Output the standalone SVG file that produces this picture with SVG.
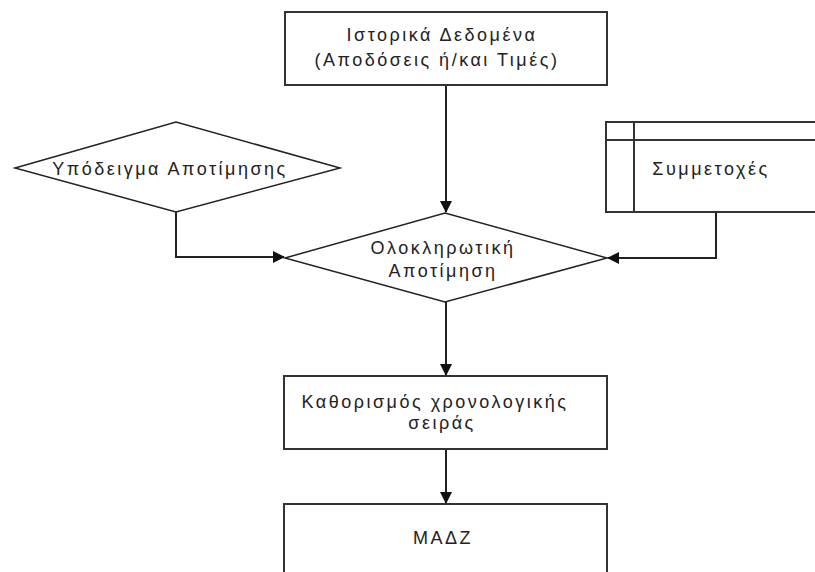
<svg xmlns="http://www.w3.org/2000/svg" width="815" height="572" viewBox="0 0 815 572">
<defs>
<style>
.s{fill:#fff;stroke:#333;stroke-width:2}
.d{fill:#fff;stroke:#222;stroke-width:1.5}
.c{fill:none;stroke:#222;stroke-width:2}
text{font-family:"Liberation Sans",Arial,sans-serif;font-size:18px;fill:#222;letter-spacing:2.5px;text-anchor:middle}
</style>
<marker id="a" markerWidth="12" markerHeight="12" refX="11" refY="6" orient="auto" markerUnits="userSpaceOnUse">
<path d="M0,0 L12,6 L0,12 Z" fill="#111"/>
</marker>
</defs>
<rect width="815" height="572" fill="#fff"/>
<g id="connectors">
<path class="c" d="M446,85 V212" marker-end="url(#a)"/>
<path class="c" d="M176,212 V257 H284" marker-end="url(#a)"/>
<path class="c" d="M716,212 V258 H608" marker-end="url(#a)"/>
<path class="c" d="M446,302 V375" marker-end="url(#a)"/>
<path class="c" d="M446,449 V503" marker-end="url(#a)"/>
</g>
<g id="historical">
<rect class="s" x="285" y="12" width="322" height="73"/>
<text x="442" y="41">Ιστορικά Δεδομένα</text>
<text x="437" y="66">(Αποδόσεις ή/και Τιμές)</text>
</g>
<g id="model">
<polygon class="d" points="15,168 176,122 340,168 176,212"/>
<text x="170" y="175">Υπόδειγμα Αποτίμησης</text>
</g>
<g id="holdings">
<rect class="s" x="606" y="122" width="215" height="90"/>
<line class="s" x1="606" y1="140" x2="821" y2="140"/>
<line class="s" x1="634" y1="122" x2="634" y2="212"/>
<text x="711" y="175">Συμμετοχές</text>
</g>
<g id="valuation">
<polygon class="d" points="285,258 445,213 607,258 445,302"/>
<text x="443" y="254">Ολοκληρωτική</text>
<text x="443" y="277">Αποτίμηση</text>
</g>
<g id="series">
<rect class="s" x="284" y="376" width="323" height="73"/>
<text x="435" y="408">Καθορισμός χρονολογικής</text>
<text x="442" y="429">σειράς</text>
</g>
<g id="madz">
<rect class="s" x="284" y="504" width="323" height="80"/>
<text x="443" y="544">ΜΑΔΖ</text>
</g>
</svg>
